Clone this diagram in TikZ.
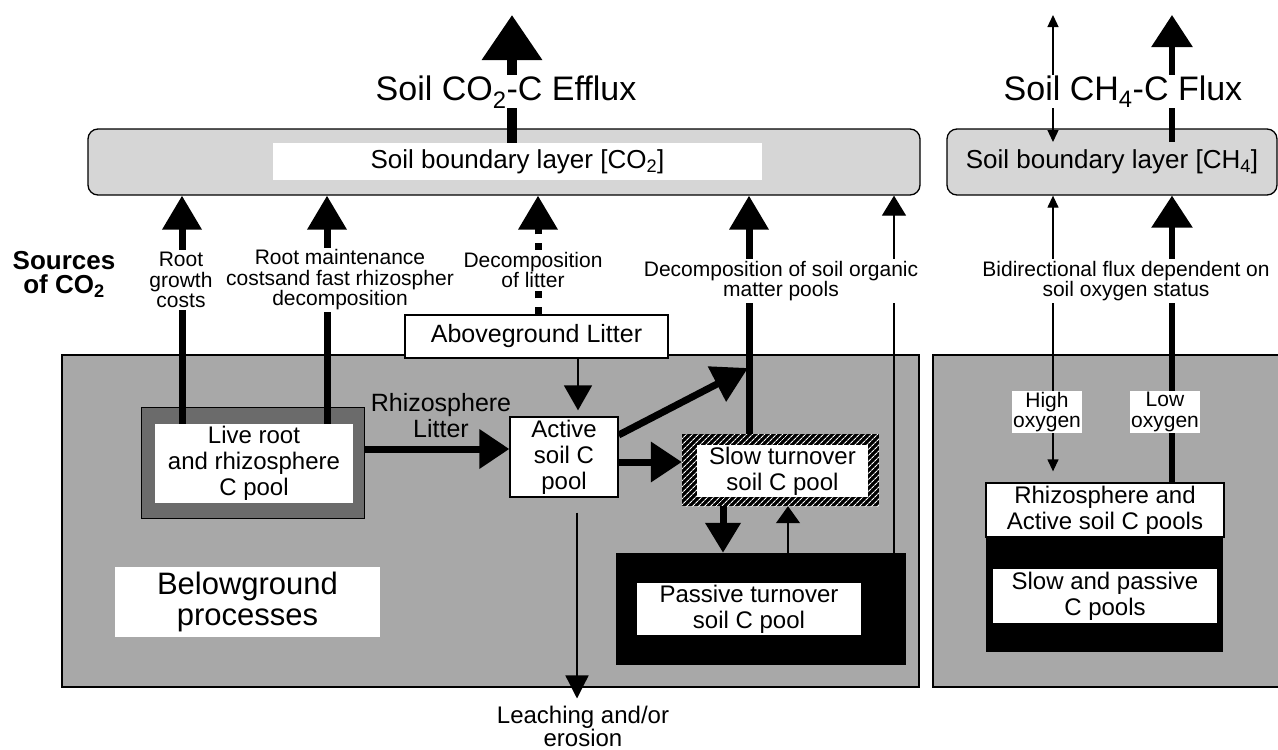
\documentclass[tikz,border=0pt]{standalone}
\usepackage{fontspec}
\setmainfont{Liberation Sans}
\usetikzlibrary{arrows.meta,patterns.meta}
\tikzset{
  panel/.style={draw, line width=1.3pt, fill=black!34, inner sep=0pt},
  bnd/.style={draw, line width=1.3pt, fill=black!16, rounded corners=10pt, inner sep=0pt},
  wbox/.style={draw, line width=1.3pt, fill=white, inner sep=0pt},
  plain/.style={fill=white, inner sep=0pt},
  blackbox/.style={fill=black, inner sep=0pt},
  hatchbox/.style={fill=black, inner sep=0pt, postaction={pattern={Lines[angle=45,distance=4pt,line width=1.2pt]}, pattern color=white}},
  btxt/.style={font=\fontsize{24}{26}\selectfont, align=center},
  lbl/.style={font=\fontsize{21}{20.5}\selectfont, align=center, fill=white, inner sep=2pt},
  bigar/.style={line width=7pt, -{Triangle[length=34pt,width=38pt]}},
  thinar/.style={line width=1.3pt, -{Triangle[length=20pt,width=24pt]}},
  smallbi/.style={line width=1.3pt, {Triangle[length=12pt,width=11pt]}-{Triangle[length=12pt,width=11pt]}},
}
\begin{document}
\begin{tikzpicture}[x=1pt,y=-1pt]
\useasboundingbox (0,0) rectangle (1278,750);
% reference x / y positions
\coordinate (xa) at (182,0);
\coordinate (xb) at (327,0);
\coordinate (xc) at (538,0);
\coordinate (xd) at (749,0);
\coordinate (xe) at (894,0);
\coordinate (xf) at (578,0);
\coordinate (xg) at (723,0);
\coordinate (xh) at (788,0);
\coordinate (xi) at (577,0);
\coordinate (xj) at (1053,0);
\coordinate (xk) at (1172,0);
\coordinate (yr) at (0,449);
\coordinate (yd) at (0,435);
\coordinate (ys) at (0,462);

% panels
\node[panel, minimum width=857pt, minimum height=332pt] (p1) at (490.5,521) {};
\node[panel, minimum width=357pt, minimum height=332pt] (p2) at (1111.5,521) {};

% boundary layers
\node[bnd, minimum width=832pt, minimum height=66pt] (bl1) at (504,162) {};
\node[plain, minimum width=489pt, minimum height=37pt, font=\fontsize{26}{28}\selectfont] (bl1t) at (517.5,161.5) {Soil boundary layer [CO\textsubscript{2}]};
\node[bnd, minimum width=330pt, minimum height=66pt, font=\fontsize{26}{28}\selectfont] (bl2) at (1112,162) {Soil boundary layer [CH\textsubscript{4}]};

% pools
\node[draw, line width=1pt, fill=black!58, minimum width=223pt, minimum height=111pt, inner sep=0pt] (lr) at (252.5,462.5) {};
\node[plain, btxt, minimum width=198pt, minimum height=79pt] (lri) at (254,463.5) {Live root\\and rhizosphere\\C pool};
\node[wbox, btxt, minimum width=108pt, minimum height=80pt] (ac) at (564,457) {Active\\soil C\\pool};
\node[wbox, font=\fontsize{25}{27}\selectfont, minimum width=263pt, minimum height=43pt] (lit) at (536.5,336.5) {Aboveground Litter};
\node[hatchbox, minimum width=197pt, minimum height=72pt] (so) at (780.5,470) {};
\node[plain, btxt, minimum width=171pt, minimum height=52pt] (soi) at (782.5,471) {Slow turnover\\soil C pool};
\node[blackbox, minimum width=290pt, minimum height=112pt] (pa) at (761,609) {};
\node[plain, btxt, minimum width=224pt, minimum height=52pt] (pai) at (749,609) {Passive turnover\\soil C pool};
\node[plain, font=\fontsize{31}{31}\selectfont, align=center, minimum width=265pt, minimum height=70pt] (bg) at (247.5,602) {Belowground\\processes};
\node[blackbox, minimum width=237pt, minimum height=115pt] (sp) at (1104.5,594.5) {};
\node[wbox, btxt, minimum width=238pt, minimum height=54pt] (rz) at (1105,510) {Rhizosphere and\\Active soil C pools};
\node[plain, btxt, minimum width=224pt, minimum height=54pt] (spi) at (1105,596) {Slow and passive\\C pools};

% sources of CO2
\draw[bigar] (lri.north -| xa) -- (bl1.south -| xa);
\draw[bigar] (lri.north -| xb) -- (bl1.south -| xb);
\draw[bigar, dash pattern=on 7pt off 9pt] (lit.north -| xc) -- (bl1.south -| xc);
\draw[bigar] (so.north -| xd) -- (bl1.south -| xd);
\draw[thinar] (pa.north -| xe) -- (bl1.south -| xe);

% efflux arrows
\coordinate (tc) at (512,15);
\draw[line width=10pt, -{Triangle[length=45pt,width=58pt]}] (bl1t.north -| tc) -- (tc);
\coordinate (tm1) at (1053,142);
\coordinate (tm1e) at (1053,15);
\draw[smallbi] (tm1) -- (tm1e);
\coordinate (tm2) at (1172,142);
\coordinate (tm2e) at (1172,15);
\draw[line width=6pt, -{Triangle[length=32pt,width=40pt]}] (tm2) -- (tm2e);
\node[font=\fontsize{34}{36}\selectfont, fill=white, inner sep=0pt, anchor=base] (t1) at (506,100) {Soil CO\textsubscript{2}-C Efflux};
\node[font=\fontsize{34}{36}\selectfont, fill=white, inner sep=0pt, anchor=base] (t2) at (1123,100) {Soil CH\textsubscript{4}-C Flux};

% methane side
\draw[smallbi, shorten >=11pt] (bl2.south -| xj) -- (rz.north -| xj);
\draw[line width=6pt, -{Triangle[length=32pt,width=40pt]}] (rz.north -| xk) -- (bl2.south -| xk);

% internal flows
\draw[line width=7pt, -{Triangle[length=30pt,width=38pt]}] (lr.east |- yr) -- (ac.west |- yr);
\draw[line width=1.6pt, -{Triangle[length=25pt,width=28pt]}, shorten >=6pt] (lit.south -| xf) -- (ac.north -| xf);
\coordinate (dg) at (748,368);
\draw[line width=7pt, -{Triangle[length=35pt,width=38pt]}] (ac.east |- yd) -- (dg);
\draw[line width=7pt, -{Triangle[length=31pt,width=39pt]}] (ac.east |- ys) -- (so.west |- ys);
\draw[line width=7pt, -{Triangle[length=30pt,width=34pt]}] (so.south -| xg) -- (pa.north -| xg);
\draw[line width=1.3pt, -{Triangle[length=17pt,width=24pt]}] (pa.north -| xh) -- (so.south -| xh);

% labels
\node[font=\fontsize{25}{26}\selectfont, align=center, inner sep=0pt] (rl) at (441,416) {Rhizosphere\\Litter};
\node[font=\fontsize{24}{23}\selectfont, align=center, inner sep=0pt] (lch) at (583,726) {Leaching and/or\\erosion};
\draw[line width=1.3pt, -{Triangle[length=23pt,width=23pt]}, shorten <=15pt, shorten >=7pt] (ac.south -| xi) -- (lch.north -| xi);
\node[font=\fontsize{26}{24}\selectfont\bfseries, align=center, inner sep=0pt] (src) at (64,274) {Sources\\of CO\textsubscript{2}};
\node[lbl] (l1) at (181,280) {Root\\growth\\costs};
\node[lbl] (l2) at (340,280) {Root maintenance\\costsand fast rhizospher\\decomposition};
\node[lbl] (l3) at (533,270) {Decomposition\\of litter};
\node[lbl] (l4) at (781,281) {Decomposition of soil organic\\matter pools};
\node[lbl] (l5) at (1126,281) {Bidirectional flux dependent on\\soil oxygen status};
\node[lbl, inner sep=1pt] (l6) at (1047,412) {High\\oxygen};
\node[lbl, inner sep=1pt] (l7) at (1165,412) {Low\\oxygen};
\end{tikzpicture}
\end{document}
